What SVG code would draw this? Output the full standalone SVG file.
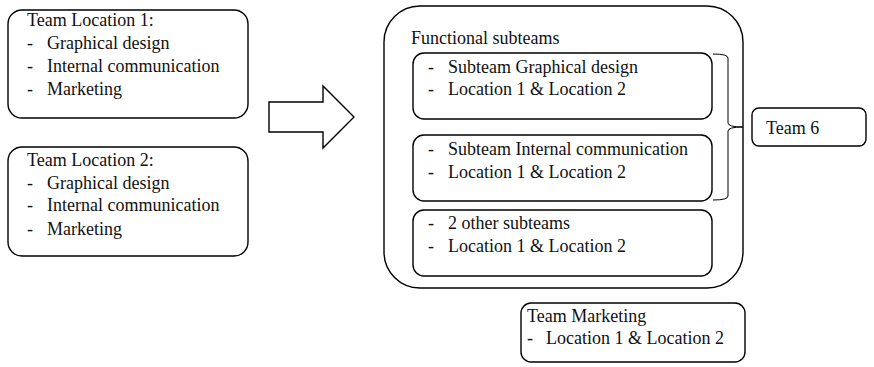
<svg xmlns="http://www.w3.org/2000/svg" width="874" height="367" viewBox="0 0 874 367">
<style>
.b{fill:#fff;stroke:#000;stroke-width:1.4}
.t{font-family:"Liberation Serif","Times New Roman",serif;font-size:18px;fill:#111}
.c{fill:none;stroke:#000;stroke-width:1}
</style>
<rect width="874" height="367" fill="#fff"/>
<g id="loc1">
<rect class="b" x="8" y="10" width="240" height="108" rx="14"/>
<text class="t" x="27" y="26">Team Location 1:</text>
<text class="t" x="27" y="49">-</text><text class="t" x="47" y="49">Graphical design</text>
<text class="t" x="27" y="72">-</text><text class="t" x="47" y="72">Internal communication</text>
<text class="t" x="27" y="95">-</text><text class="t" x="47" y="95">Marketing</text>
</g>
<g id="loc2">
<rect class="b" x="8" y="147" width="240" height="109" rx="14"/>
<text class="t" x="27" y="166">Team Location 2:</text>
<text class="t" x="27" y="189">-</text><text class="t" x="47" y="189">Graphical design</text>
<text class="t" x="27" y="211">-</text><text class="t" x="47" y="211">Internal communication</text>
<text class="t" x="27" y="235">-</text><text class="t" x="47" y="235">Marketing</text>
</g>
<g id="arrow">
<polygon class="b" points="269,102 323,102 323,86 354,117 323,148 323,132 269,132"/>
</g>
<g id="functional">
<rect class="b" x="384" y="6" width="359" height="282" rx="36"/>
<text class="t" x="411" y="44">Functional subteams</text>
</g>
<g id="sub1">
<rect class="b" x="413" y="53" width="299" height="66" rx="11"/>
<text class="t" x="428" y="73">-</text><text class="t" x="448" y="73">Subteam Graphical design</text>
<text class="t" x="428" y="95">-</text><text class="t" x="448" y="95">Location 1 &amp; Location 2</text>
</g>
<g id="sub2">
<rect class="b" x="413" y="135" width="299" height="66" rx="11"/>
<text class="t" x="428" y="155">-</text><text class="t" x="448" y="155">Subteam Internal communication</text>
<text class="t" x="428" y="178">-</text><text class="t" x="448" y="178">Location 1 &amp; Location 2</text>
</g>
<g id="sub3">
<rect class="b" x="413" y="210" width="299" height="66" rx="11"/>
<text class="t" x="428" y="229">-</text><text class="t" x="448" y="229">2 other subteams</text>
<text class="t" x="428" y="252">-</text><text class="t" x="448" y="252">Location 1 &amp; Location 2</text>
</g>
<g id="team6">
<rect class="b" x="752" y="108" width="114" height="38" rx="7"/>
<text class="t" x="766" y="134">Team 6</text>
</g>
<g id="marketing">
<rect class="b" x="521" y="303" width="224" height="59" rx="10"/>
<text class="t" x="527" y="322">Team Marketing</text>
<text class="t" x="527" y="344">-</text><text class="t" x="546" y="344">Location 1 &amp; Location 2</text>
</g>
<g id="connectors">
<path class="c" d="M713,54 Q728,54 728,58 L728,123 Q728,127 743,127 Q728,127 728,131 L728,196 Q728,200 713,200"/>
</g>
</svg>
